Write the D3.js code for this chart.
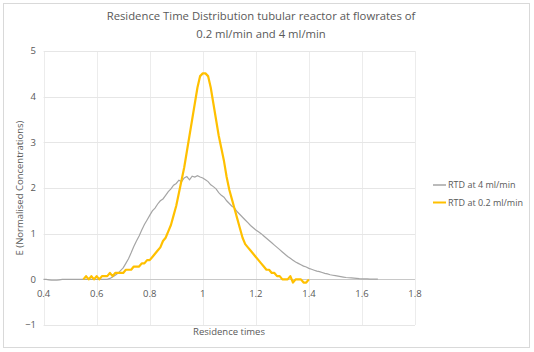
<!DOCTYPE html>
<html><head><meta charset="utf-8">
<script src="https://cdn.jsdelivr.net/npm/d3@7"></script>
<style>body{margin:0;background:#fff;} text{font-family:"Open Sans",sans-serif;fill:#595959;}</style>
</head><body><svg id="c" width="534" height="352"></svg>
<script>
const titleLines = ["Residence Time Distribution tubular reactor at flowrates of", "0.2 ml/min and 4 ml/min"];
const xTicks = [0.4, 0.6, 0.8, 1, 1.2, 1.4, 1.6, 1.8];
const yTicks = [-1, 0, 1, 2, 3, 4, 5];
const seriesNames = ["RTD at 4 ml/min", "RTD at 0.2 ml/min"];

const timeA = [0.40,0.41,0.42,0.43,0.44,0.45,0.46,0.47,0.48,0.49,0.50,0.51,0.52,0.53,0.54,0.55,0.56,0.57,0.58,0.59,
0.60,0.61,0.62,0.63,0.64,0.65,0.66,0.67,0.68,0.69,0.70,0.71,0.72,0.73,0.74,0.75,0.76,0.77,0.78,0.79,
0.80,0.81,0.82,0.83,0.84,0.85,0.86,0.87,0.88,0.89,0.90,0.91,0.92,0.93,0.94,0.95,0.96,0.97,0.98,0.99,
1.00,1.01,1.02,1.03,1.04,1.05,1.06,1.07,1.08,1.09,1.10,1.11,1.12,1.13,1.14,1.15,1.16,1.17,1.18,1.19,
1.20,1.21,1.22,1.23,1.24,1.25,1.26,1.27,1.28,1.29,1.30,1.31,1.32,1.33,1.34,1.35,1.36,1.37,1.38,1.39,
1.40,1.41,1.42,1.43,1.44,1.45,1.46,1.47,1.48,1.49,1.50,1.51,1.52,1.53,1.54,1.55,1.56,1.57,1.58,1.59,
1.60,1.61,1.62,1.63,1.64,1.65,1.66];
const rtd4 = [0,0,-0.01,-0.02,-0.02,-0.02,-0.01,0,0,0,0,0,0,0,0,0,0,0,0,0,
0,0,0,0,0,0.02,0.05,0.09,0.13,0.19,0.25,0.35,0.45,0.58,0.72,0.84,0.95,1.08,1.20,1.30,
1.40,1.50,1.56,1.65,1.72,1.76,1.84,1.92,1.98,2.06,2.10,2.17,2.14,2.22,2.25,2.18,2.26,2.24,2.27,2.24,
2.22,2.18,2.14,2.07,2.03,1.98,1.90,1.84,1.80,1.72,1.66,1.60,1.56,1.48,1.42,1.36,1.30,1.24,1.18,1.13,
1.08,1.04,1.00,0.95,0.90,0.85,0.80,0.75,0.70,0.65,0.60,0.55,0.50,0.46,0.42,0.38,0.35,0.32,0.29,0.27,
0.24,0.22,0.20,0.18,0.17,0.15,0.13,0.12,0.10,0.09,0.08,0.07,0.06,0.05,0.04,0.035,0.03,0.025,0.02,0.015,
0.012,0.01,0.008,0.006,0.005,0.004,0.003];

const timeB = [0.55,0.56,0.57,0.58,0.59,0.60,0.61,0.62,0.63,0.64,0.65,0.66,0.67,0.68,0.69,0.70,0.71,0.72,0.73,0.74,
0.75,0.76,0.77,0.78,0.79,0.80,0.81,0.82,0.83,0.84,0.85,0.86,0.87,0.88,0.89,0.90,0.91,0.92,0.93,0.94,
0.95,0.96,0.97,0.98,0.99,1.00,1.01,1.02,1.03,1.04,1.05,1.06,1.07,1.08,1.09,1.10,1.11,1.12,1.13,1.14,
1.15,1.16,1.17,1.18,1.19,1.20,1.21,1.22,1.23,1.24,1.25,1.26,1.27,1.28,1.29,1.30,1.31,1.32,1.33,1.34,
1.35,1.36,1.37,1.38,1.39,1.40];
const rtd02 = [0,0.07,0,0.07,0,0.07,0,0.07,0.07,0.07,0.14,0.07,0.14,0.14,0.14,0.14,0.21,0.21,0.21,0.28,
0.28,0.28,0.35,0.35,0.42,0.42,0.49,0.56,0.63,0.70,0.84,0.91,1.05,1.19,1.40,1.61,1.89,2.17,2.45,2.80,
3.15,3.50,3.85,4.20,4.45,4.51,4.51,4.45,4.20,3.85,3.50,3.15,2.87,2.59,2.24,1.96,1.75,1.54,1.33,1.12,
0.91,0.77,0.70,0.63,0.56,0.49,0.42,0.35,0.28,0.21,0.21,0.14,0.14,0.07,0.07,0,0,0,0.07,-0.07,
0,0,0,-0.07,-0.07,0];

const svg = d3.select("#c");
svg.append("rect").attr("x",3.5).attr("y",3.5).attr("width",526).attr("height",344)
  .attr("fill","#fff").attr("stroke","#d9d9d9");

const L = 43.6, R = 415, T = 51, B = 325;
const x = d3.scaleLinear().domain([0.4,1.8]).range([L,R]);
const y = d3.scaleLinear().domain([-1,5]).range([B,T]);

// gridlines
const gx = svg.append("g");
gx.selectAll("line.v").data(xTicks).join("line")
  .attr("x1",d=>Math.round(x(d))+0.5).attr("x2",d=>Math.round(x(d))+0.5)
  .attr("y1",T).attr("y2",B).attr("stroke","#ececec");
gx.selectAll("line.h").data(yTicks).join("line")
  .attr("y1",d=>Math.round(y(d))+0.5).attr("y2",d=>Math.round(y(d))+0.5)
  .attr("x1",L).attr("x2",R).attr("stroke",d=>d===0?"#c8c8c8":"#e6e6e6");

// y tick labels
svg.append("g").selectAll("text").data(yTicks).join("text")
  .attr("x",36).attr("y",d=>y(d)).attr("dy","0.35em").attr("text-anchor","end")
  .attr("font-size",9.5).text(d=>d3.format("d")(d));
// x tick labels under zero line
svg.append("g").selectAll("text").data(xTicks).join("text")
  .attr("x",d=>x(d)).attr("y",y(0)+14).attr("dy","0.35em").attr("text-anchor","middle")
  .attr("font-size",9.5).text(d=>d3.format("")(d));

const line = d3.line().x(d=>x(d[0])).y(d=>y(d[1]));
const dA = timeA.map((t,i)=>[t,rtd4[i]]);
const dB = timeB.map((t,i)=>[t,rtd02[i]]);
svg.append("path").attr("d",line(dA)).attr("fill","none").attr("stroke","#a5a5a5").attr("stroke-width",1.2);
svg.append("path").attr("d",line(dB)).attr("fill","none").attr("stroke","#ffc000").attr("stroke-width",2.2)
  .attr("stroke-linejoin","round");

// titles
svg.append("g").selectAll("text").data(titleLines).join("text")
  .attr("x",261).attr("y",(d,i)=>16+i*18).attr("dy","0.35em").attr("text-anchor","middle")
  .attr("font-size",11.3).text(d=>d);
svg.append("text").attr("x",229).attr("y",332).attr("dy","0.35em").attr("text-anchor","middle")
  .attr("font-size",9.5).text("Residence times");
svg.append("text").attr("transform","translate(20,188) rotate(-90)").attr("dy","0.35em")
  .attr("text-anchor","middle").attr("font-size",9.5).text("E (Normalised Concentrations)");

// legend
const colors = ["#a5a5a5","#ffc000"];
const lg = svg.append("g").selectAll("g").data(seriesNames).join("g")
  .attr("transform",(d,i)=>`translate(433,${185+i*17.5})`);
lg.append("line").attr("x1",0).attr("x2",13).attr("stroke",(d,i)=>colors[i]).attr("stroke-width",(d,i)=>i?2:1.5);
lg.append("text").attr("x",15).attr("dy","0.35em").attr("font-size",9).text(d=>d);
</script></body></html>
